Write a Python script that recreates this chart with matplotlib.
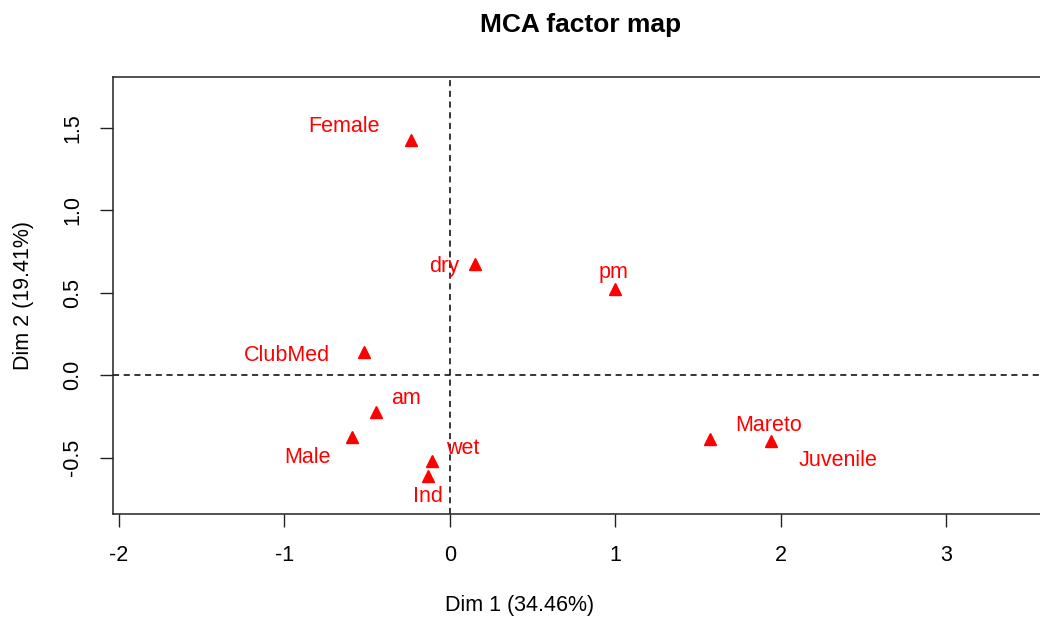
import numpy as np
import matplotlib
matplotlib.use('Agg')
import matplotlib.pyplot as plt

plt.rcParams['font.family'] = ['Liberation Sans', 'DejaVu Sans']

# categorias del MCA
categorias = ['Female', 'dry', 'pm', 'ClubMed', 'am', 'Male', 'wet', 'Ind', 'Mareto', 'Juvenile']
dim1 = [-0.232, 0.152, 0.996, -0.519, -0.444, -0.594, -0.109, -0.131, 1.572, 1.940]
dim2 = [1.428, 0.673, 0.519, 0.137, -0.226, -0.374, -0.521, -0.612, -0.390, -0.398]
# posicion de las etiquetas (coordenadas de datos)
etiq_x = [-0.641, -0.035, 0.992, -0.984, -0.267, -0.862, 0.081, -0.135, 1.925, 2.350]
etiq_y = [1.509, 0.656, 0.622, 0.117, -0.141, -0.499, -0.444, -0.737, -0.303, -0.519]

xticks = [-2, -1, 0, 1, 2, 3]
yticks = [-0.5, 0.0, 0.5, 1.0, 1.5]
xlab = 'Dim 1 (34.46%)'
ylab = 'Dim 2 (19.41%)'
titulo = 'MCA factor map'

W, H = 1040, 619
fig = plt.figure(figsize=(W / 100, H / 100), dpi=100)
ax = fig.add_axes([113 / W, (H - 514) / H, (1042 - 113) / W, (514 - 76.5) / H])

ax.plot(dim1, dim2, linestyle='none', marker='^', color='red', markersize=8)
for c, x, y in zip(categorias, etiq_x, etiq_y):
    ax.text(x, y, c, color='red', fontsize=15.5, ha='center', va='center')

ax.axhline(0, color='black', linestyle=(0, (4, 3)), lw=1.1)
ax.axvline(0, color='black', linestyle=(0, (4, 3)), lw=1.1)

ax.set_xlim(-2.036, 3.58)
ax.set_ylim(-0.842, 1.81)
ax.set_xticks(xticks)
ax.set_xticklabels([str(t) for t in xticks])
ax.set_yticks(yticks)
ax.set_yticklabels(['%.1f' % t for t in yticks], rotation=90, va='center')
ax.tick_params(axis='both', direction='out', length=9.5, width=1, labelsize=15.5, color='#222222')
ax.tick_params(axis='x', pad=13)
ax.tick_params(axis='y', pad=12)
for s in ax.spines.values():
    s.set_linewidth(1.1)
    s.set_color('#222222')

fig.text(0.5, 1 - 606 / H, xlab, ha='center', va='center', fontsize=15.5)
fig.text(24 / W, 0.5 + (H / 2 - 295) / H, ylab, ha='center', va='center', rotation=90, fontsize=15.5)
fig.text(581 / W, 1 - 25 / H, titulo, ha='center', va='center', fontsize=19, fontweight='bold')

fig.savefig('out.png', dpi=100)
